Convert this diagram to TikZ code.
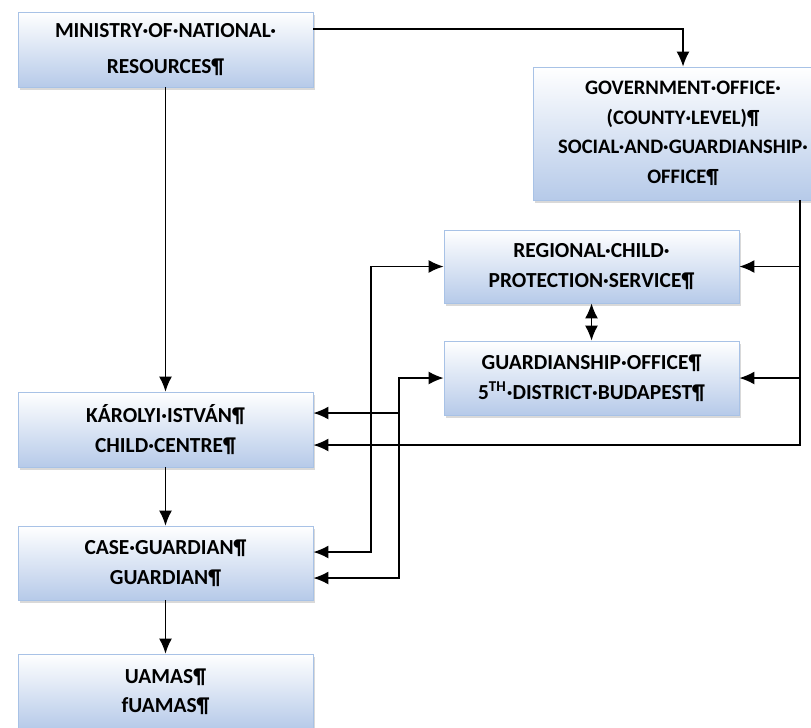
\documentclass[tikz,border=0pt]{standalone}
\usepackage{fontspec}
\setmainfont{Carlito}
\usepackage{tikz}
\usetikzlibrary{arrows.meta,positioning,shadows}

\definecolor{boxblue}{RGB}{182,202,233}
\definecolor{boxline}{RGB}{168,194,230}

\begin{document}
\begin{tikzpicture}[font=\bfseries, >={Latex[length=3mm,width=2.6mm]}]
        % Setup the style for the boxes
        \tikzset{box style/.style={rectangle,
                                   minimum width=5.9cm,
                                   minimum height=1.5cm,
                                   align=center,
                                   line width=0.5pt,
                                   draw=boxline,
                                   top color=white,
                                   bottom color=boxblue,
                                   drop shadow={shadow xshift=0.4mm,
                                                shadow yshift=-0.6mm,
                                                opacity=0.3},
                                   font=\bfseries\fontsize{12.2}{16.8}\selectfont},
                 link/.style={line width=0.8pt}}

        \useasboundingbox (0,0) rectangle (16.22,-14.54);
        \clip (0,0) rectangle (16.22,-14.54);

        % Draw the boxes
        \node[box style, font=\bfseries\fontsize{12.2}{21}\selectfont]
              at (3.31, -0.99)  (ministry) {MINISTRY·OF·NATIONAL·\\RESOURCES¶};
        \node[box style, minimum width=6cm, minimum height=2.66cm,
              font=\bfseries\fontsize{11.7}{16.8}\selectfont]
              at (13.66, -2.67) (gov)      {GOVERNMENT·OFFICE·\\(COUNTY·LEVEL)¶\\SOCIAL·AND·GUARDIANSHIP·\\OFFICE¶};
        \node[box style, minimum height=1.46cm]
              at (11.83, -5.33) (regional) {REGIONAL·CHILD·\\PROTECTION·SERVICE¶};
        \node[box style, minimum height=1.48cm]
              at (11.83, -7.56) (guardian) {GUARDIANSHIP·OFFICE¶\\5\textsuperscript{TH}·DISTRICT·BUDAPEST¶};
        \node[box style] at (3.31, -8.59)  (karolyi) {KÁROLYI·ISTVÁN¶\\CHILD·CENTRE¶};
        \node[box style, minimum height=1.48cm]
              at (3.31, -11.26) (case)     {CASE·GUARDIAN¶\\GUARDIAN¶};
        \node[box style] at (3.31, -13.83) (uamas)   {UAMAS¶\\fUAMAS¶};

        % Points where the lines run down and come in
        \coordinate (trunk) at (16.0, 0);
        \coordinate (busa)  at (7.42, 0);
        \coordinate (busb)  at (7.98, 0);
        \coordinate (kis top)  at ([yshift=3.3mm]karolyi.east);
        \coordinate (kis low)  at ([yshift=-3.1mm]karolyi.east);
        \coordinate (case top) at ([yshift=2.2mm]case.east);
        \coordinate (case low) at ([yshift=-3mm]case.east);

        % Connect the boxes with arrows
        \draw[link, ->] ([yshift=4.1mm]ministry.east) -| (gov.north);
        \draw[link, ->] (ministry) -- (karolyi);
        \draw[link, ->] (karolyi)  -- (case);
        \draw[link, ->] (case)     -- (uamas);
        \draw[link, <->] (regional) -- (guardian);

        \draw[link, ->] (gov.south -| trunk) |- (kis low);
        \draw[link, ->] (regional.east -| trunk) -- (regional.east);
        \draw[link, ->] (guardian.east -| trunk) -- (guardian.east);

        \draw[link, <->] (regional.west) -- (regional.west -| busa) |- (case top);
        \draw[link, <->] (guardian.west) -- (guardian.west -| busb) |- (case low);
        \draw[link, ->]  (kis top -| busb) -- (kis top);
\end{tikzpicture}
\end{document}
